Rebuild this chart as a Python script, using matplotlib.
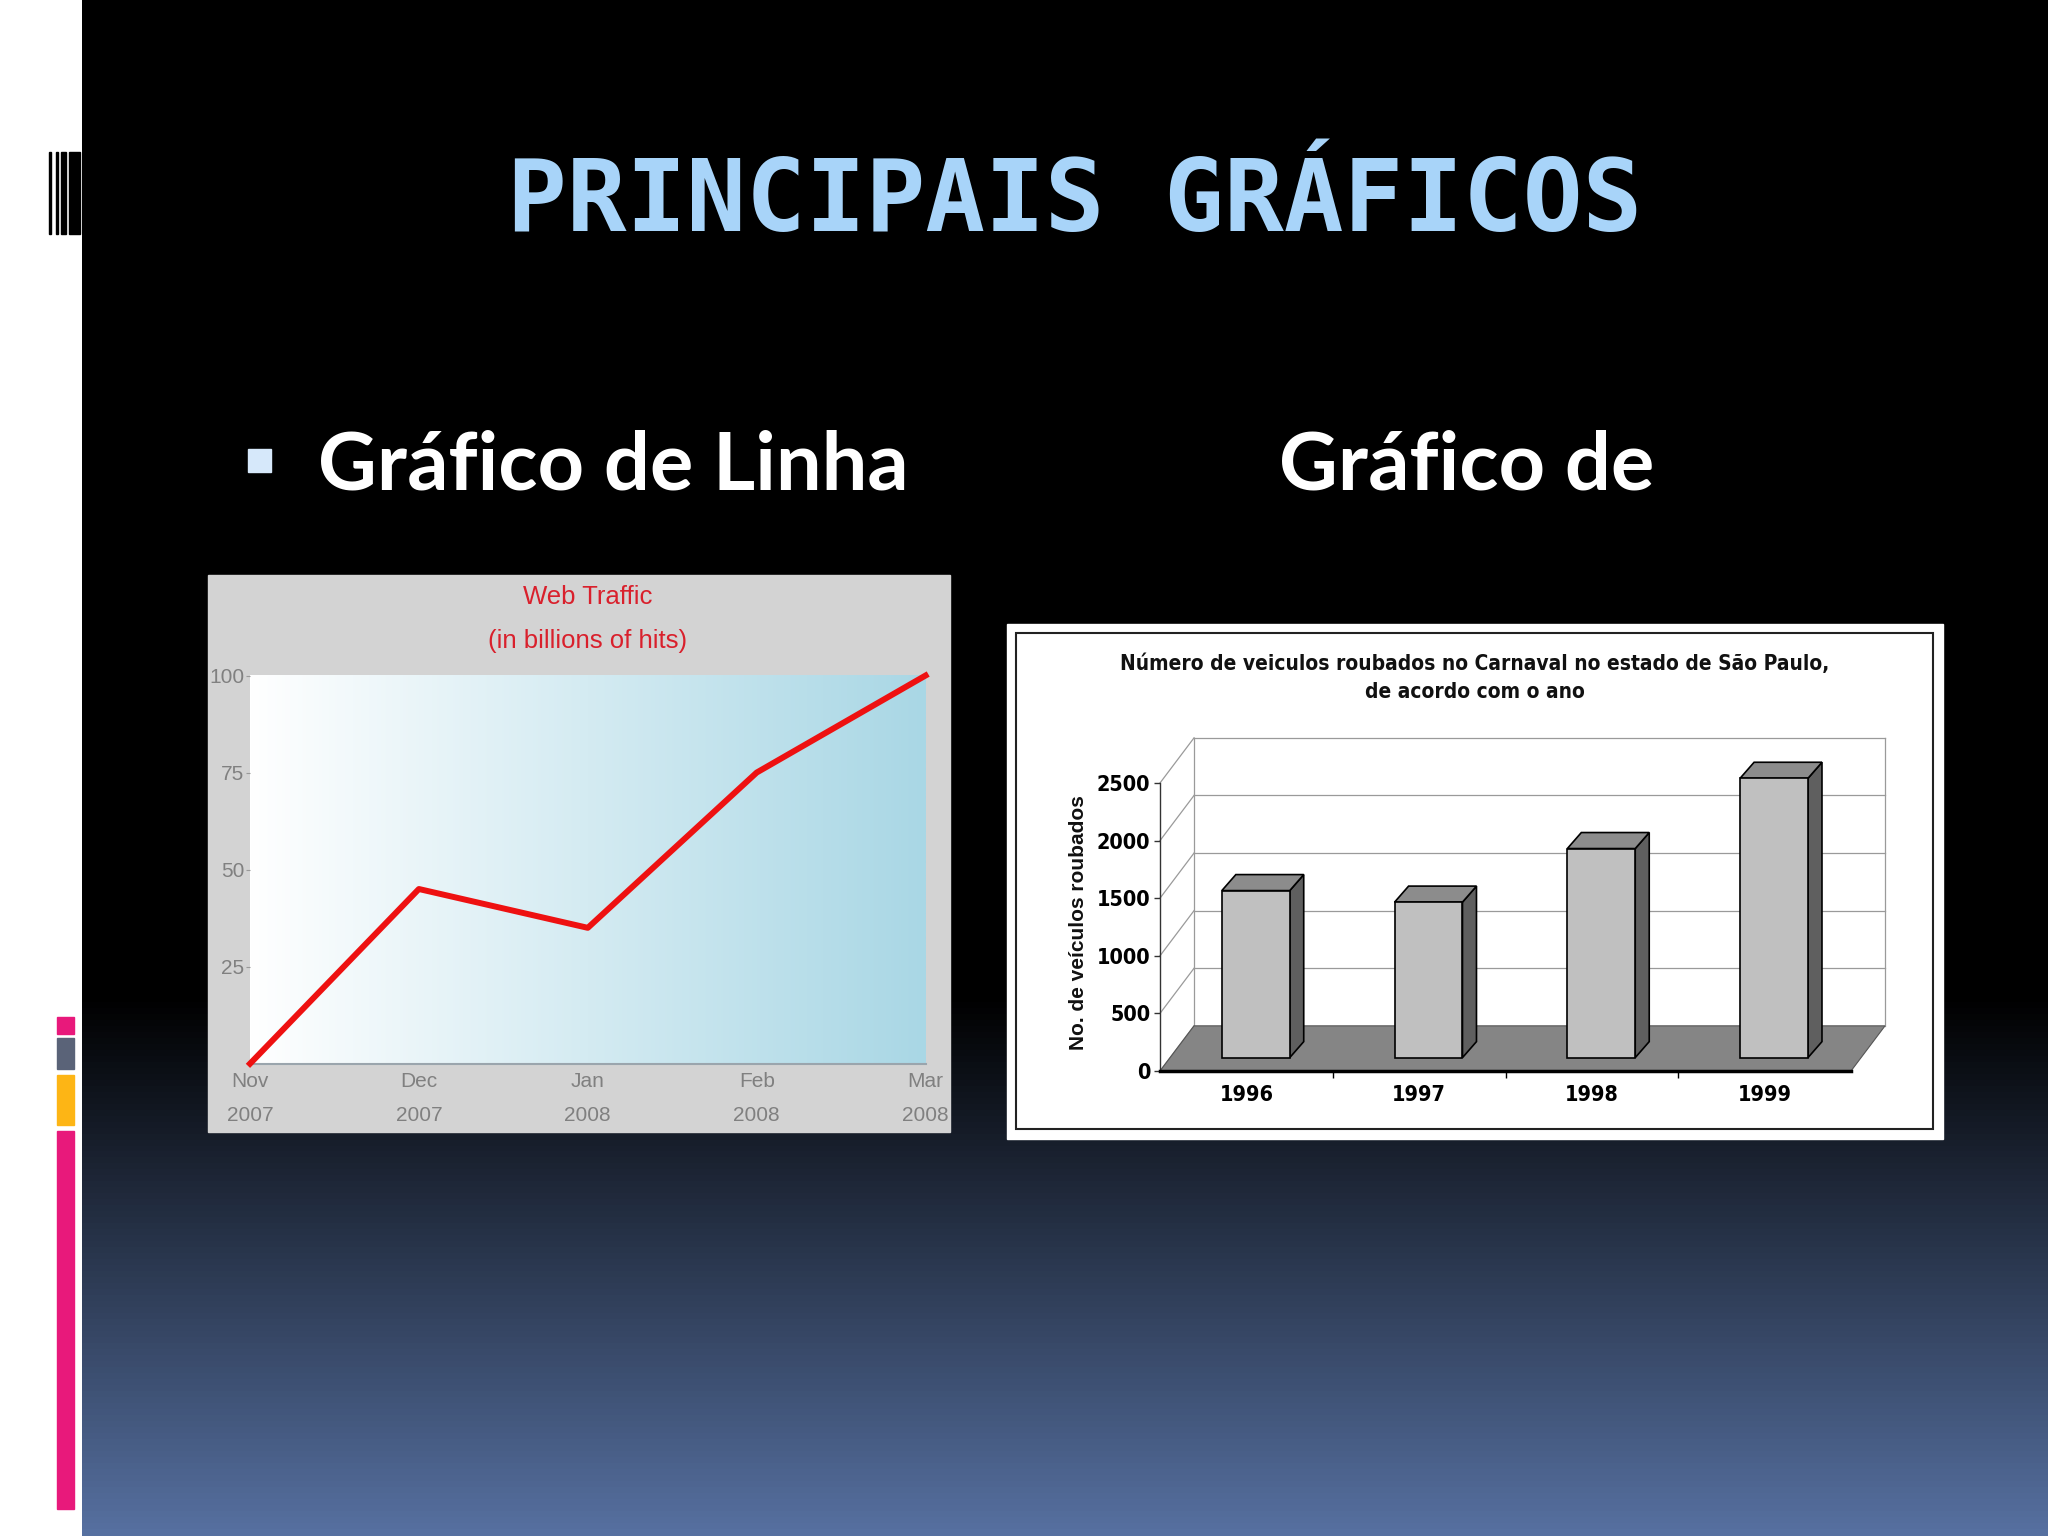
import numpy as np
import matplotlib
matplotlib.use("Agg")
import matplotlib.pyplot as plt
from matplotlib.colors import LinearSegmentedColormap
from matplotlib.patches import Rectangle, Polygon

W, H = 2048, 1536

# data
months = ["Nov\n2007", "Dec\n2007", "Jan\n2008", "Feb\n2008", "Mar\n2008"]
hits = [0, 45, 35, 75, 100]
hit_ticks = [25, 50, 75, 100]

years = ["1996", "1997", "1998", "1999"]
stolen = [1450, 1350, 1815, 2425]
stolen_ticks = [0, 500, 1000, 1500, 2000, 2500]

# condensed bold look of the excel chart
NARROW = dict(family="DejaVu Sans", stretch="condensed", weight="bold")


def box(x0, y0, x1, y1):
    # pixel box (top-left origin) -> figure fraction rect
    return [x0 / W, 1 - y1 / H, (x1 - x0) / W, (y1 - y0) / H]


fig = plt.figure(figsize=(W / 100, H / 100), dpi=100)

# ---- slide background ----
bg = fig.add_axes([0, 0, 1, 1])
bg.set_xlim(0, W)
bg.set_ylim(H, 0)
bg.axis("off")

bg.add_patch(Rectangle((0, 0), 82, H, color="white", zorder=0))
shade = LinearSegmentedColormap.from_list(
    "slide", [(0, "#000000"), (0.65, "#000000"), (1, "#5670a0")])
bg.imshow(np.linspace(0, 1, 512).reshape(-1, 1), extent=(82, W, H, 0),
          aspect="auto", cmap=shade, zorder=0)

# barcode at top left
for x0, x1 in [(49, 51), (56, 57.5), (60.5, 66), (69, 79.5)]:
    bg.add_patch(Rectangle((x0, 152), x1 - x0, 82, color="black", zorder=1))
# coloured strips at bottom left
for y0, y1, c in [(1017, 1034, "#e8197b"), (1038, 1069, "#5a6378"),
                  (1075, 1125, "#fdb515"), (1131, 1509, "#e8197b")]:
    bg.add_patch(Rectangle((57, y0), 17, y1 - y0, color=c, zorder=1))

bg.text(1075, 204, "PRINCIPAIS GRÁFICOS", color="#a8d4f9", fontsize=71.5,
        family="DejaVu Sans Mono", weight="bold", ha="center", va="center")

bg.add_patch(Rectangle((248, 449), 23, 23, color="#d6e8fa", zorder=2))
bg.text(318, 489, "Gráfico de Linha", color="white", fontsize=58.5,
        family="Lato", weight="bold", ha="left", va="baseline")
bg.text(1279, 489, "Gráfico de", color="white", fontsize=58.5,
        family="Lato", weight="bold", ha="left", va="baseline")

# ---- line chart ----
bg.add_patch(Rectangle((208, 575), 742, 557, color="#d3d3d3", zorder=1))
bg.text(588, 597, "Web Traffic", color="#d9202c", fontsize=18.5,
        family="Liberation Sans", ha="center", va="center", zorder=2)
bg.text(588, 641, "(in billions of hits)", color="#d9202c", fontsize=18.5,
        family="Liberation Sans", ha="center", va="center", zorder=2)

ax1 = fig.add_axes(box(250, 675.5, 925.6, 1063.7))
ax1.set_facecolor("none")
ax1.set_xlim(0, len(hits) - 1)
ax1.set_ylim(0, 100)
blue = LinearSegmentedColormap.from_list("blue", ["#ffffff", "#a9d7e5"])
ax1.imshow(np.linspace(0, 1, 256).reshape(1, -1), extent=(0, 4, 0, 100),
           aspect="auto", cmap=blue, zorder=0)
ax1.plot(range(len(hits)), hits, color="#ee1111", lw=4.3, clip_on=False,
         zorder=3)
for s in ["top", "right", "left"]:
    ax1.spines[s].set_visible(False)
ax1.spines["bottom"].set_color("#9aa5ad")
ax1.spines["bottom"].set_linewidth(1.5)
ax1.set_yticks(hit_ticks)
ax1.set_xticks(range(len(months)))
ax1.set_xticklabels(months, linespacing=2.0)
ax1.tick_params(axis="y", length=3, color="#999999", labelcolor="#808080",
                labelsize=15, pad=1)
ax1.tick_params(axis="x", length=0, labelcolor="#808080", labelsize=15,
                pad=6)
for t in ax1.get_xticklabels() + ax1.get_yticklabels():
    t.set_family("Liberation Sans")

# ---- 3D-looking bar chart ----
bg.add_patch(Rectangle((1007, 624), 936, 515, color="white", zorder=1))
bg.add_patch(Rectangle((1016, 633), 917, 496, fill=False, ec="#222222",
                       lw=1.5, zorder=2))
bg.text(1475, 664, "Número de veiculos roubados no Carnaval no estado de São Paulo,",
        fontsize=15, ha="center", va="center", color="#111111", zorder=2,
        **NARROW)
bg.text(1475, 692, "de acordo com o ano", fontsize=15, ha="center",
        va="center", color="#111111", zorder=2, **NARROW)
bg.text(1078, 923, "No. de veículos roubados", fontsize=15, rotation=90,
        family="Liberation Sans", weight="bold", ha="center", va="center",
        color="#111111", zorder=2)

ax2 = fig.add_axes(box(1160, 783, 1851, 1071))
ax2.set_facecolor("none")
ax2.set_xlim(0, len(years))
ax2.set_ylim(0, 2500)

ddx, ddy = 0.197, 392       # depth of the floor / back wall
fy = 116                    # where the bar front faces sit
bx, by = 0.081, 139         # bar depth
bw = 0.393
grid = "#9a9a9a"

for v in stolen_ticks:
    ax2.plot([0, ddx], [v, v + ddy], color=grid, lw=0.9, clip_on=False, zorder=1)
    if v > 0:
        ax2.plot([ddx, len(years) + ddx], [v + ddy, v + ddy], color=grid,
                 lw=0.9, clip_on=False, zorder=1)
for xw in [ddx, len(years) + ddx]:
    ax2.plot([xw, xw], [ddy, 2500 + ddy], color=grid, lw=0.9, clip_on=False,
             zorder=1)

n = len(years)
ax2.add_patch(Polygon([(0, 0), (n, 0), (n + ddx, ddy), (ddx, ddy)],
                      closed=True, fc="#858585", ec="#555555", lw=0.8,
                      clip_on=False, zorder=2))

for i, v in enumerate(stolen):
    x0 = i + 0.358
    y0 = fy
    front = Rectangle((x0, y0), bw, v, fc="#c0c0c0", ec="black", lw=1.2,
                      clip_on=False, zorder=4)
    side = Polygon([(x0 + bw, y0), (x0 + bw + bx, y0 + by),
                    (x0 + bw + bx, y0 + v + by), (x0 + bw, y0 + v)],
                   closed=True, fc="#5f5f5f", ec="black", lw=1.2,
                   clip_on=False, zorder=3)
    top = Polygon([(x0, y0 + v), (x0 + bw, y0 + v),
                   (x0 + bw + bx, y0 + v + by), (x0 + bx, y0 + v + by)],
                  closed=True, fc="#8c8c8c", ec="black", lw=1.2,
                  clip_on=False, zorder=3)
    for p in (side, top, front):
        ax2.add_patch(p)

for s in ["top", "right"]:
    ax2.spines[s].set_visible(False)
ax2.spines["left"].set_color("#333333")
ax2.spines["left"].set_linewidth(1.0)
ax2.spines["bottom"].set_color("black")
ax2.spines["bottom"].set_linewidth(2.5)
ax2.spines["bottom"].set_zorder(5)
ax2.set_yticks(stolen_ticks)
ax2.set_xticks([i + 0.5 for i in range(n)])
ax2.set_xticklabels(years)
ax2.set_xticks(range(1, n), minor=True)
ax2.tick_params(axis="y", length=4, width=1, color="#333333", labelsize=15.5,
                pad=3)
ax2.tick_params(axis="x", which="major", length=0, labelsize=15.5, pad=10)
ax2.tick_params(axis="x", which="minor", length=5, width=1, color="black")
for t in ax2.get_xticklabels() + ax2.get_yticklabels():
    t.set_family(NARROW["family"])
    t.set_stretch(NARROW["stretch"])
    t.set_weight("bold")

fig.savefig("out.png", dpi=100)
